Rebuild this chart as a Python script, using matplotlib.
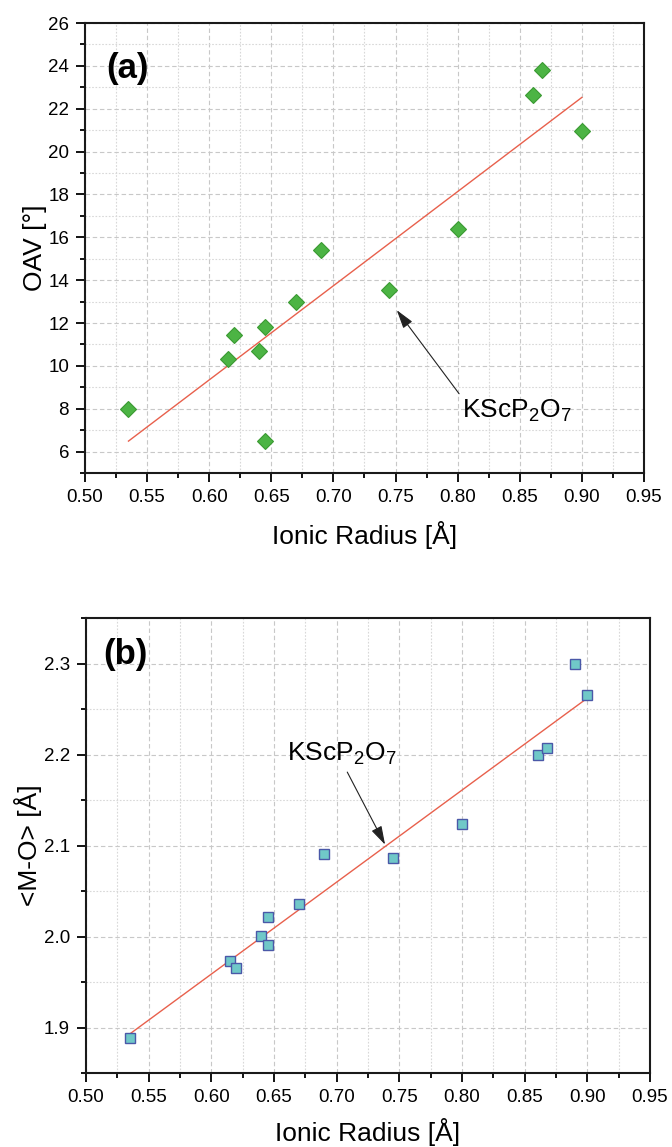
import numpy as np
import matplotlib
matplotlib.use('Agg')
import matplotlib.pyplot as plt
from matplotlib.ticker import MultipleLocator

plt.rcParams['font.family'] = ['Liberation Sans', 'DejaVu Sans']

# ionic radius [A] and OAV [deg] (panel a)
r_a = [0.535, 0.615, 0.620, 0.640, 0.645, 0.645, 0.670, 0.690, 0.745, 0.800, 0.861, 0.868, 0.900]
oav = [7.99, 10.32, 11.44, 10.69, 11.81, 6.49, 12.98, 15.41, 13.54, 16.39, 22.64, 23.79, 20.97]
fit_x_a = [0.535, 0.900]
fit_y_a = [6.49, 22.53]

# ionic radius [A] and <M-O> [A] (panel b)
r_b = [0.535, 0.615, 0.620, 0.640, 0.645, 0.645, 0.670, 0.690, 0.745, 0.800, 0.861, 0.868, 0.890, 0.900]
mo = [1.889, 1.973, 1.965, 2.001, 2.021, 1.991, 2.036, 2.091, 2.086, 2.124, 2.200, 2.207, 2.300, 2.265]
fit_x_b = [0.535, 0.900]
fit_y_b = [1.893, 2.262]

label = 'KScP$_\\mathregular{2}$O$_\\mathregular{7}$'

fig = plt.figure(figsize=(6.72, 11.47), dpi=100)
ax1 = fig.add_axes([0.1265, 0.5876, 0.8318, 0.3923])
ax2 = fig.add_axes([0.1280, 0.0645, 0.8393, 0.3967])


def style(ax, pad):
    ax.set_xlim(0.5, 0.95)
    ax.xaxis.set_major_locator(MultipleLocator(0.05))
    ax.xaxis.set_minor_locator(MultipleLocator(0.025))
    ax.xaxis.set_major_formatter(plt.FormatStrFormatter('%.2f'))
    for s in ax.spines.values():
        s.set_linewidth(1.5)
        s.set_color('#1a1a1a')
    ax.tick_params(which='major', direction='out', length=6.5, width=1.3,
                   labelsize=13.5, pad=5, top=False, right=False)
    ax.tick_params(which='minor', direction='out', length=3.5, width=1.3,
                   top=False, right=False)
    ax.grid(which='major', color='#c8c8c8', linestyle=(0, (4, 2.5)), linewidth=0.8)
    ax.grid(which='minor', color='#d8d8d8', linestyle=(0, (1.5, 1.5)), linewidth=0.8)
    ax.set_axisbelow(True)
    ax.set_xlabel('Ionic Radius [Å]', fontsize=19, labelpad=pad)


# panel (a)
style(ax1, 11)
ax1.set_ylim(5, 26)
ax1.yaxis.set_major_locator(MultipleLocator(2))
ax1.yaxis.set_minor_locator(MultipleLocator(1))
ax1.plot(fit_x_a, fit_y_a, color='#e8604c', linewidth=1.0, zorder=2)
ax1.plot(r_a, oav, linestyle='none', marker='D', markersize=8,
         markerfacecolor='#4cb444', markeredgecolor='#3a9a32', markeredgewidth=0.8, zorder=3)
ax1.set_ylabel('OAV [°]', fontsize=19, labelpad=1)
ax1.text(0.038, 0.9, '(a)', transform=ax1.transAxes, fontsize=25,
         fontweight='bold', ha='left', va='center')
ax1.annotate(label, xy=(0.751, 12.6), xytext=(0.8035, 7.9), fontsize=19,
             ha='left', va='center',
             arrowprops=dict(arrowstyle='-|>,head_length=0.6,head_width=0.18',
                             color='#222222', lw=0.8, relpos=(0, 1),
                             shrinkA=1, shrinkB=0))

# panel (b)
style(ax2, 9)
ax2.set_ylim(1.85, 2.35)
ax2.yaxis.set_major_locator(MultipleLocator(0.1))
ax2.yaxis.set_minor_locator(MultipleLocator(0.05))
ax2.yaxis.set_major_formatter(plt.FormatStrFormatter('%.1f'))
ax2.plot(fit_x_b, fit_y_b, color='#e8604c', linewidth=1.0, zorder=2)
ax2.plot(r_b, mo, linestyle='none', marker='s', markersize=7,
         markerfacecolor='#70c8c8', markeredgecolor='#4a58a8', markeredgewidth=1.0, zorder=3)
ax2.set_ylabel('<M-O> [Å]', fontsize=19, labelpad=1)
ax2.text(0.031, 0.919, '(b)', transform=ax2.transAxes, fontsize=25,
         fontweight='bold', ha='left', va='center')
ax2.annotate(label, xy=(0.7386, 2.101), xytext=(0.660, 2.201), fontsize=19,
             ha='left', va='center',
             arrowprops=dict(arrowstyle='-|>,head_length=0.6,head_width=0.18',
                             color='#222222', lw=0.8, relpos=(0.53, 0),
                             shrinkA=2, shrinkB=0))

fig.savefig('out.png', dpi=100)
